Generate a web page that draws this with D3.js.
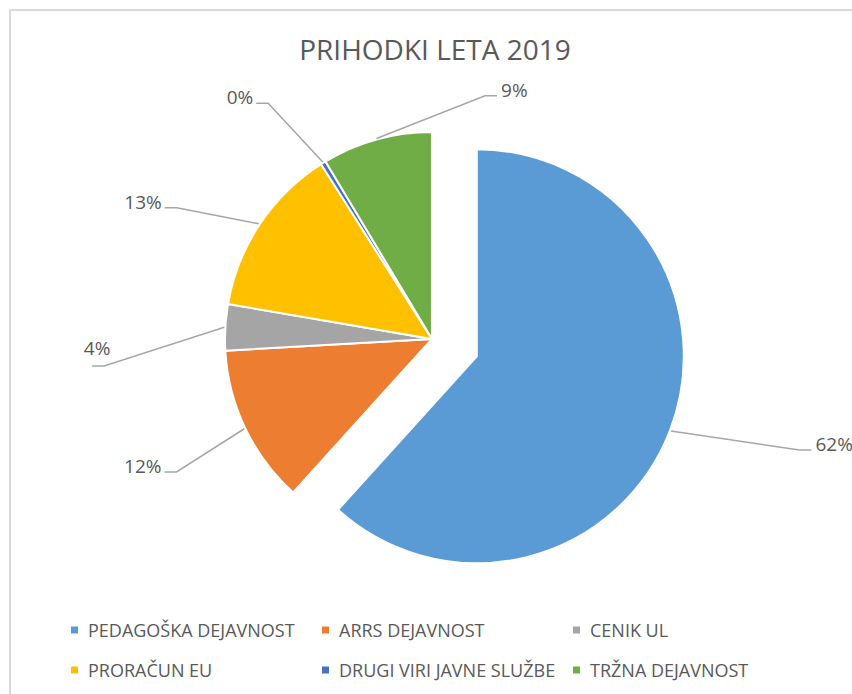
<!DOCTYPE html>
<html>
<head>
<meta charset="utf-8">
<script src="https://cdn.jsdelivr.net/npm/d3@7"></script>
<style>
  body { margin: 0; background: #fff; }
  svg { display: block; }
  text { font-family: "Open Sans", sans-serif; fill: #595959; }
</style>
</head>
<body>
<div id="chart"></div>
<script>
"use strict";

var title = "PRIHODKI LETA 2019";
var categories = ["PEDAGOŠKA DEJAVNOST", "ARRS DEJAVNOST", "CENIK UL", "PRORAČUN EU", "DRUGI VIRI JAVNE SLUŽBE", "TRŽNA DEJAVNOST"];
var values = [61.7, 12.4, 3.6, 13.3, 0.4, 8.6];
var colors = ["#5b9bd5", "#ed7d31", "#a5a5a5", "#ffc000", "#4472c4", "#70ad47"];
var exploded = [true, false, false, false, false, false];

// where each label was dragged to: angle (deg, clockwise from top) and distance from the slice centre
var labelAngles = [106.2, 242.5, 265.3, 297.2, 325.2, 12.3];
var labelDistances = [336, 288, 329, 287, 287, 249];
var labelAnchors = ["start", "end", "above", "end", "end", "start"];

var width = 852, height = 694;
var cx = 432, cy = 339, radius = 207, explodeBy = 48;

var svg = d3.select("#chart").append("svg")
    .attr("width", width)
    .attr("height", height);

// chart area border (the picture is cropped on the right and bottom)
svg.append("rect")
    .attr("x", 10).attr("y", 10)
    .attr("width", 870).attr("height", 700)
    .attr("fill", "none")
    .attr("stroke", "#d9d9d9")
    .attr("stroke-width", 2);

svg.append("text")
    .attr("x", 435).attr("y", 60)
    .attr("text-anchor", "middle")
    .attr("font-size", 28)
    .text(title);

var pie = d3.pie().sort(null).value(function(d) { return d; });
var arcs = pie(values);

var arc = d3.arc().innerRadius(0).outerRadius(radius);

function polar(angle, r) {
    return [Math.sin(angle) * r, -Math.cos(angle) * r];
}

// centre of each slice, moved out along the mid angle if exploded
arcs.forEach(function(d, i) {
    d.mid = (d.startAngle + d.endAngle) / 2;
    var off = exploded[i] ? polar(d.mid, explodeBy) : [0, 0];
    d.cx = cx + off[0];
    d.cy = cy + off[1];
});

var slices = svg.append("g").attr("class", "slices");
slices.selectAll("path")
    .data(arcs)
    .enter().append("path")
    .attr("transform", function(d) { return "translate(" + d.cx + "," + d.cy + ")"; })
    .attr("d", arc)
    .attr("fill", function(d, i) { return colors[i]; })
    .attr("stroke", "#fff")
    .attr("stroke-width", 2)
    .attr("stroke-linejoin", "round");

// ------------------------- leader lines + labels
var labels = svg.append("g").attr("class", "labels");
arcs.forEach(function(d, i) {
    var start = polar(d.mid, radius + 1);
    var elbow = polar(labelAngles[i] * Math.PI / 180, labelDistances[i]);
    var x0 = d.cx + start[0], y0 = d.cy + start[1];
    var x1 = d.cx + elbow[0], y1 = d.cy + elbow[1];
    var dir = x1 < cx ? -1 : 1;
    var x2 = x1 + dir * 12;

    labels.append("path")
        .attr("d", "M" + x0 + "," + y0 + "L" + x1 + "," + y1 + "L" + x2 + "," + y1)
        .attr("fill", "none")
        .attr("stroke", "#a6a6a6")
        .attr("stroke-width", 1.5);

    var pct = Math.round(values[i] / d3.sum(values) * 100) + "%";
    var t = labels.append("text").attr("font-size", 19).text(pct);
    if (labelAnchors[i] == "above") {
        t.attr("x", (x1 + x2) / 2 - 1).attr("y", y1 - 11).attr("text-anchor", "middle");
    } else if (labelAnchors[i] == "end") {
        t.attr("x", x2 - 3).attr("y", y1 + 1).attr("text-anchor", "end");
    } else {
        t.attr("x", x2 + 4).attr("y", y1 + 1).attr("text-anchor", "start");
    }
});

// ------------------------- legend, 3 per row
var legendCols = [71, 322, 573], legendRows = [630, 670];
var legend = svg.append("g").attr("class", "legend")
    .selectAll("g")
    .data(categories)
    .enter().append("g")
    .attr("transform", function(d, i) {
        return "translate(" + legendCols[i % 3] + "," + legendRows[Math.floor(i / 3)] + ")";
    });

legend.append("rect")
    .attr("x", 0).attr("y", -3.5)
    .attr("width", 7).attr("height", 7)
    .attr("fill", function(d, i) { return colors[i]; });

legend.append("text")
    .attr("x", 17).attr("y", 7)
    .attr("font-size", 18)
    .text(function(d) { return d; });
</script>
</body>
</html>
